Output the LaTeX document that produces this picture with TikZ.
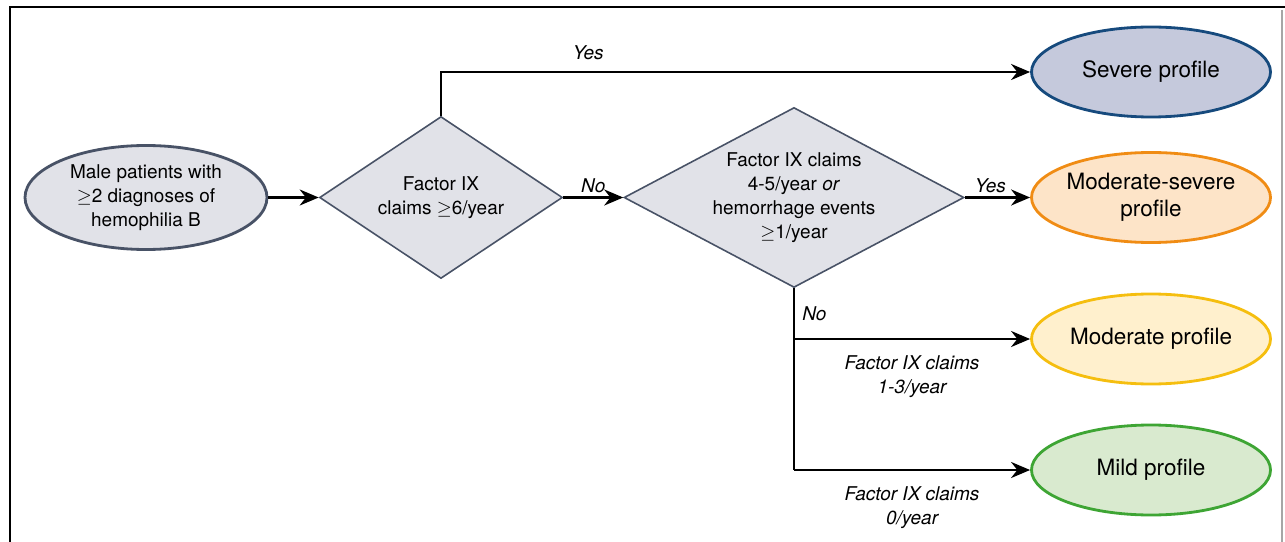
\documentclass[tikz,border=0pt]{standalone}
\usepackage{fontspec}
\setmainfont{TeX Gyre Heros}
\usetikzlibrary{arrows.meta,positioning,shapes.geometric}
\definecolor{patfill}{RGB}{225,226,232}
\definecolor{patline}{RGB}{72,82,102}
\definecolor{sevfill}{RGB}{197,201,220}
\definecolor{sevline}{RGB}{22,74,125}
\definecolor{msfill}{RGB}{253,228,200}
\definecolor{msline}{RGB}{240,140,20}
\definecolor{modfill}{RGB}{255,240,205}
\definecolor{modline}{RGB}{245,190,15}
\definecolor{mildfill}{RGB}{217,234,207}
\definecolor{mildline}{RGB}{62,165,52}
\newcommand{\smtxt}{\fontsize{10.8}{13.6}\selectfont}
\newcommand{\bgtxt}{\fontsize{12.8}{15.3}\selectfont}

\begin{document}
\begin{tikzpicture}[
  >={Stealth[length=3.8mm,width=3.2mm]}, line width=1.4pt, font=\smtxt,
  pat/.style={ellipse,draw=patline,fill=patfill,line width=1.6pt,minimum width=4.84cm,minimum height=2.08cm,inner sep=0pt,align=center},
  dec/.style={diamond,draw=patline,fill=patfill,line width=0.9pt,inner sep=0pt,align=center},
  prof/.style={ellipse,line width=1.6pt,minimum width=4.78cm,minimum height=1.8cm,inner sep=0pt,align=center,font=\bgtxt},
  lbl/.style={font=\smtxt\itshape,inner sep=2pt,align=center},
]
\useasboundingbox (0,0) rectangle (25.7,10.82);
% --- frame, cut at the bottom ---
\draw[line width=1.4pt] (0.2,-0.5) |- (25.7,10.68);
\draw[gray!70,line width=0.6pt] (25.64,10.62) -- (25.64,-0.5);

% --- start and the two questions ---
\node[pat] (pat) at (2.92,6.87) {Male patients with\\$\geq$2 diagnoses of\\hemophilia B};
\node[dec,aspect=1.5,minimum width=4.86cm,minimum height=3.24cm] (d1) at (8.82,6.87) {Factor IX\\claims $\geq$6/year};
\node[dec,aspect=1.9,minimum width=6.8cm,minimum height=3.6cm] (d2) at (15.88,6.87) {Factor IX claims\\4-5/year \textit{or}\\hemorrhage events\\$\geq$1/year};

% --- the four profiles ---
\node[prof,draw=sevline,fill=sevfill]   (sev)  at (23.02,9.38) {Severe profile};
\node[prof,draw=msline,fill=msfill]     (ms)   at (23.02,6.87) {Moderate-severe\\profile};
\node[prof,draw=modline,fill=modfill]   (mod)  at (23.02,4.04) {Moderate profile};
\node[prof,draw=mildline,fill=mildfill] (mild) at (23.02,1.42) {Mild profile};

% --- connectors ---
\draw[->] (pat) -- (d1);
\draw[->] (d1.north) |- node[lbl,above=4pt,pos=0.625]{Yes} (sev.west);
\draw[->] (d1.east) -- node[lbl,above]{No} (d2.west);
\draw[->] (d2.east) -- node[lbl,above,xshift=-4pt]{Yes} (ms.west);
\coordinate (b1) at (d2.south |- mod.west);
\coordinate (b2) at (d2.south |- mild.west);
\draw (d2.south) -- node[lbl,right=2pt,pos=0.14]{No} (b2);
\draw[->] (b1) -- node[lbl,below=7pt]{Factor IX claims\\1-3/year} (mod.west);
\draw[->] (b2) -- node[lbl,below=7pt]{Factor IX claims\\0/year} (mild.west);
\end{tikzpicture}
\end{document}
